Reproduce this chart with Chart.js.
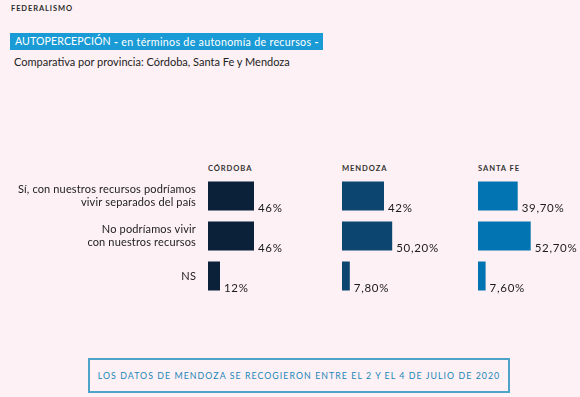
<!DOCTYPE html>
<html>
<head>
<meta charset="utf-8">
<script src="https://cdn.jsdelivr.net/npm/chart.js@4.4.1/dist/chart.umd.min.js"></script>
<style>
  html, body { margin: 0; padding: 0; background: #fdf1f5; }
  #page { position: relative; width: 580px; height: 397px; overflow: hidden; font-family: Lato, sans-serif; }
  .abs { position: absolute; white-space: nowrap; }
  #kicker { left: 11px; top: 4px; font-size: 7.5px; font-weight: 700; letter-spacing: 0.9px; color: #2a2a2a; }
  #titlebox { left: 10px; top: 33px; width: 313px; height: 17px; background: #1a9bd6; color: #fff; }
  #titlebox span.big { font-size: 10.6px; position: absolute; left: 5px; top: 2.2px; letter-spacing: 0.1px; }
  #titlebox span.small { font-size: 10.7px; position: absolute; left: 104px; top: 2.2px; letter-spacing: 0.3px; }
  #subtitle { left: 14px; top: 55px; font-size: 11px; color: #222; }
  .prov { font-size: 7.6px; font-weight: 700; letter-spacing: 0.9px; color: #333; top: 163px; }
  #note { left: 88px; top: 358px; width: 418px; height: 31px; border: 2px solid #4ea4c8; color: #1a86b7;
          font-size: 8.8px; letter-spacing: 1.05px; text-align: center; line-height: 31px; }
  .wrap { position: absolute; top: 176px; height: 120px; }
</style>
</head>
<body>
<div id="page">
  <div id="kicker" class="abs">FEDERALISMO</div>
  <div id="titlebox" class="abs"><span class="big">AUTOPERCEPCIÓN</span><span class="small"><b>-</b> en términos de autonomía de recursos <b>-</b></span></div>
  <div id="subtitle" class="abs">Comparativa por provincia: Córdoba, Santa Fe y Mendoza</div>
  <div id="note" class="abs">LOS DATOS DE MENDOZA SE RECOGIERON ENTRE EL 2 Y EL 4 DE JULIO DE 2020</div>
</div>
<script>
// respuestas (filas)
const answers = [
  ["Sí, con nuestros recursos podríamos", "vivir separados del país"],
  ["No podríamos vivir", "con nuestros recursos"],
  "NS"
];
const provinces = ["CÓRDOBA", "MENDOZA", "SANTA FE"];
const cordoba = [46, 46, 12];
const mendoza = [42, 50.2, 7.8];
const santaFe = [39.7, 52.7, 7.6];
const colors = ["#0b2039", "#0c4670", "#0274b1"];

const page = document.getElementById("page");

const fmt = v => (Number.isInteger(v) ? v : v.toFixed(2).replace(".", ",")) + "%";

const spacing = {
  id: "spacing",
  beforeLayout(chart) { chart.ctx.letterSpacing = "0.15px"; },
  beforeDraw(chart) { chart.ctx.letterSpacing = "0.15px"; }
};

const valueLabels = {
  id: "valueLabels",
  afterDatasetsDraw(chart) {
    const ctx = chart.ctx;
    ctx.save();
    ctx.letterSpacing = "0.7px";
    ctx.font = "11.5px Lato";
    ctx.fillStyle = "#1c1c1c";
    ctx.textAlign = "left";
    ctx.textBaseline = "alphabetic";
    chart.getDatasetMeta(0).data.forEach((bar, i) => {
      const v = chart.data.datasets[0].data[i];
      ctx.fillText(fmt(v), bar.x + 4, bar.y + bar.height / 2 + 1);
    });
    ctx.restore();
  }
};

function makeChart(left, width, values, color, withLabels, padRight) {
  const wrap = document.createElement("div");
  wrap.className = "wrap";
  wrap.style.left = left + "px";
  wrap.style.width = width + "px";
  const cv = document.createElement("canvas");
  wrap.appendChild(cv);
  page.appendChild(wrap);
  return new Chart(cv, {
    type: "bar",
    data: {
      labels: answers,
      datasets: [{
        data: values,
        backgroundColor: color,
        borderWidth: 0,
        categoryPercentage: 1,
        barPercentage: 0.725
      }]
    },
    options: {
      indexAxis: "y",
      responsive: true,
      maintainAspectRatio: false,
      animation: false,
      events: [],
      layout: { padding: { left: 0, right: padRight, top: 0, bottom: 0 } },
      plugins: { legend: { display: false }, tooltip: { enabled: false } },
      scales: {
        x: { display: false, min: 0, max: 100 },
        y: {
          display: withLabels,
          grid: { display: false, drawTicks: false },
          border: { display: false },
          ticks: {
            padding: 12,
            color: "#222",
            font: { family: "Lato", size: 11, lineHeight: 1.15 }
          },
          afterFit(scale) {
            scale.width = withLabels ? 208 : 0;
            scale.paddingTop = 0;
            scale.paddingBottom = 0;
          }
        }
      }
    },
    plugins: [spacing, valueLabels]
  });
}

const lefts = [0, 342, 478];
makeChart(lefts[0], 330, cordoba, colors[0], true, 22);
makeChart(lefts[1], 136, mendoza, colors[1], false, 36);
makeChart(lefts[2], 102, santaFe, colors[2], false, 2);

provinces.forEach((p, i) => {
  const d = document.createElement("div");
  d.className = "abs prov";
  d.style.left = (i === 0 ? 208 : lefts[i]) + "px";
  d.textContent = p;
  page.appendChild(d);
});
</script>
</body>
</html>
